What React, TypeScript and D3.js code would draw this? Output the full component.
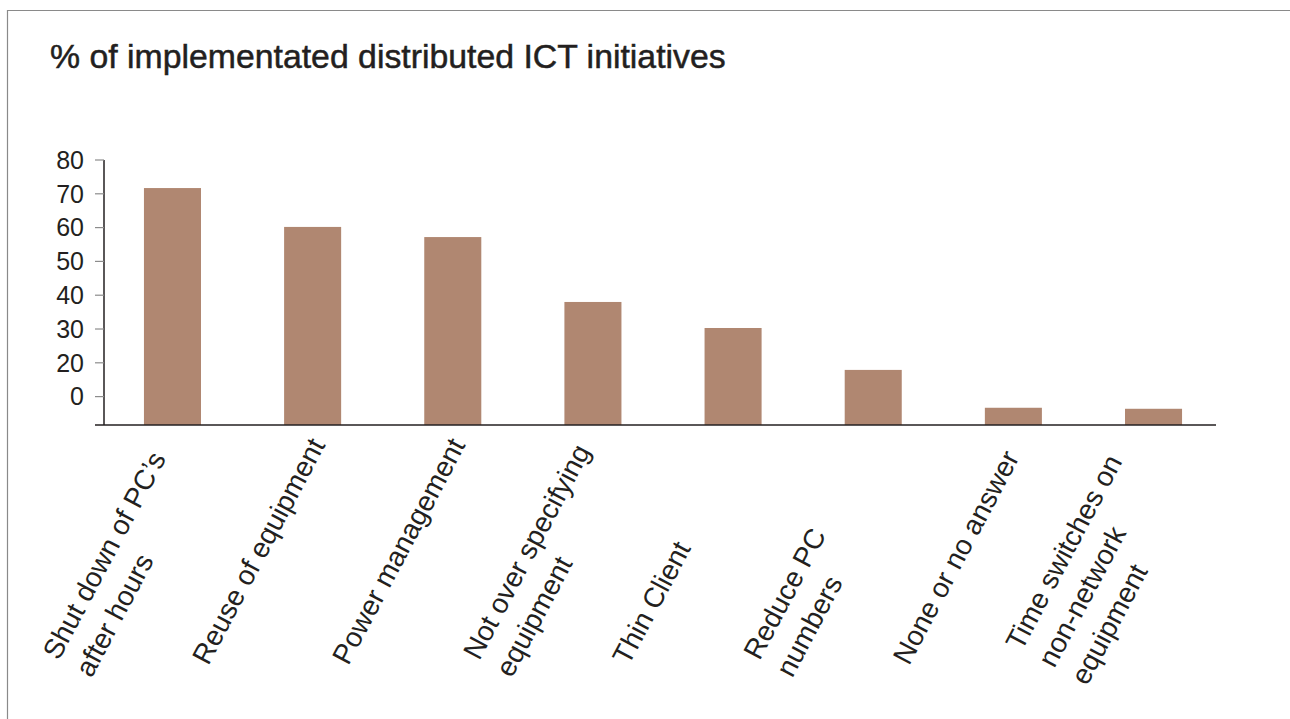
import React from "react";
import * as d3 from "d3";

const title = "% of implementated distributed ICT initiatives";
const categories: string[][] = [
  ["Shut down of PC\u2019s", "after hours"],
  ["Reuse of equipment"],
  ["Power management"],
  ["Not over specifying", "equipment"],
  ["Thin Client"],
  ["Reduce PC", "numbers"],
  ["None or no answer"],
  ["Time switches on", "non-network", "equipment"],
];
const values = [71.7, 60.2, 57.2, 38.0, 30.3, 17.9, 6.7, 6.4];
const tickValues = [10, 20, 30, 40, 50, 60, 70, 80];
const tickLabels = ["0", "20", "30", "40", "50", "60", "70", "80"];
const yDomain: [number, number] = [1.6, 80];

const W = 1290;
const H = 719;
const FONT = "'Liberation Sans', Arial, Helvetica, sans-serif";
const TEXT = "#231f20";
const BAR = "#b08771";

export default function App() {
  const axisX = 104;
  const x = d3
    .scaleBand<number>()
    .domain(d3.range(categories.length))
    .range([102.4, 1223.6])
    .paddingInner(0.593)
    .paddingOuter(0.2965);
  const y = d3.scaleLinear().domain(yDomain).range([425, 160]);
  const base = y(yDomain[0]);
  const angle = -62;
  const lineH = 37;
  const midOffset = (n: number) => (n === 1 ? 21 : n === 2 ? 29 : 27);

  return (
    <svg
      width={W}
      height={H}
      style={{ position: "absolute", left: 0, top: 0, background: "#fff" }}
      fontFamily={FONT}
    >
      <rect x={0} y={0} width={W} height={H} fill="#fff" />
      <path d={`M7.5,${H} V10.5 H${W}`} fill="none" stroke="#8a8a8a" strokeWidth={1.2} />
      <text x={50} y={68} fontSize={33.8} fill={TEXT} stroke={TEXT} strokeWidth={0.5}>
        {title}
      </text>

      {values.map((v, i) => (
        <rect
          key={i}
          x={x(i)}
          y={y(v)}
          width={x.bandwidth()}
          height={base - y(v)}
          fill={BAR}
        />
      ))}

      {/* y axis */}
      <line x1={axisX} x2={axisX} y1={y(80)} y2={base} stroke={TEXT} strokeWidth={1.5} />
      {tickValues.map((t, i) => (
        <g key={t}>
          <line x1={95} x2={axisX} y1={y(t)} y2={y(t)} stroke="#8c8c8c" strokeWidth={1.2} />
          <text
            x={84}
            y={y(t)}
            dy="0.35em"
            textAnchor="end"
            fontSize={25}
            fill={TEXT}
          >
            {tickLabels[i]}
          </text>
        </g>
      ))}
      {/* x baseline */}
      <line x1={95} x2={1216} y1={base} y2={base} stroke={TEXT} strokeWidth={1.5} />

      {categories.map((lines, i) => {
        const cx = (x(i) as number) + x.bandwidth() / 2;
        const n = lines.length;
        return (
          <g key={i} transform={`translate(${cx},${base}) rotate(${angle})`}>
            {lines.map((ln, k) => (
              <text
                key={k}
                x={-262}
                y={midOffset(n) + (k - (n - 1) / 2) * lineH}
                textAnchor="start"
                fontSize={28}
                fill={TEXT}
              >
                {ln}
              </text>
            ))}
          </g>
        );
      })}
    </svg>
  );
}
